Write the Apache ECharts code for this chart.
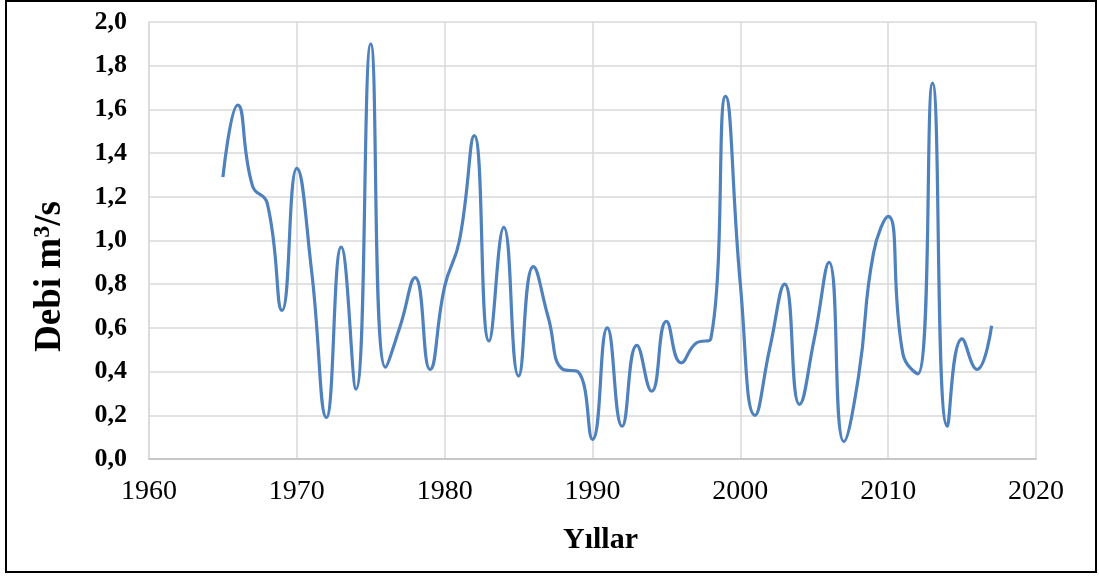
<!DOCTYPE html>
<html>
<head>
<meta charset="utf-8">
<script src="https://cdn.jsdelivr.net/npm/echarts@6/dist/echarts.min.js"></script>
<style>
html,body{margin:0;padding:0;background:#fff;}
#chart{width:1099px;height:576px;}
</style>
</head>
<body>
<div id="chart"></div>
<script>
const years = [1965,1966,1967,1968,1969,1970,1971,1972,1973,1974,1975,1976,1977,1978,1979,
  1980,1981,1982,1983,1984,1985,1986,1987,1988,1989,1990,1991,1992,1993,1994,1995,1996,1997,1998,1999,
  2000,2001,2002,2003,2004,2005,2006,2007,2008,2009,2010,2011,2012,2013,2014,2015,2016,2017];
const debi = [1.29,1.62,1.25,1.17,0.68,1.33,0.86,0.19,0.97,0.32,1.90,0.42,0.61,0.83,0.41,
  0.79,1.00,1.48,0.54,1.06,0.38,0.88,0.65,0.41,0.40,0.09,0.60,0.15,0.52,0.31,0.63,0.44,0.53,0.55,1.66,
  0.80,0.20,0.51,0.80,0.25,0.55,0.90,0.08,0.38,0.94,1.11,0.48,0.39,1.72,0.15,0.55,0.41,0.61];
const xTicks = [1960,1970,1980,1990,2000,2010,2020];
const yTicks = [0,0.2,0.4,0.6,0.8,1.0,1.2,1.4,1.6,1.8,2.0];
const xTitle = 'Yıllar';
const yTitle = 'Debi m{sup|3}/s';

const chart = echarts.init(document.getElementById('chart'), null, {renderer:'canvas'});
const font = '"Liberation Serif","Times New Roman",serif';
const grid = '#d9d9d9';
chart.setOption({
  animation:false,
  backgroundColor:'#fff',
  graphic:[{type:'rect',shape:{x:6,y:1,width:1090,height:571},style:{fill:'none',stroke:'#000',lineWidth:2},silent:true}],
  grid:{left:149,right:63,top:22,bottom:117,containLabel:false},
  xAxis:{
    type:'value',min:xTicks[0],max:xTicks[xTicks.length-1],interval:10,
    name:xTitle,nameLocation:'middle',nameGap:66,
    nameTextStyle:{fontFamily:font,fontSize:30,fontWeight:'bold',color:'#000',padding:[0,0,0,16]},
    axisLine:{show:true,lineStyle:{color:'#bfbfbf',width:1.5}},
    axisTick:{show:false},
    axisLabel:{fontFamily:font,fontSize:28,color:'#000',margin:19,formatter:v=>String(v)},
    splitLine:{show:true,lineStyle:{color:grid,width:1.5}}
  },
  yAxis:{
    type:'value',min:yTicks[0],max:yTicks[yTicks.length-1],interval:0.2,
    name:yTitle,nameLocation:'middle',nameGap:80,nameRotate:90,
    nameTextStyle:{fontFamily:font,fontSize:37,fontWeight:'bold',color:'#000',padding:[0,72,0,0],
      rich:{sup:{fontFamily:font,fontSize:24,fontWeight:'bold',color:'#000',verticalAlign:'top',padding:[0,0,14,0]}}},
    axisLine:{show:true,lineStyle:{color:grid,width:1.5}},
    axisTick:{show:false},
    axisLabel:{fontFamily:font,fontSize:26,fontWeight:'bold',color:'#000',margin:22,
      formatter:v=>v.toFixed(1).replace('.',',')},
    splitLine:{show:true,lineStyle:{color:grid,width:1.5}}
  },
  series:[{
    type:'line',smooth:0.5,showSymbol:false,symbol:'none',
    lineStyle:{color:'#4f81bd',width:3.2},
    data:years.map((y,i)=>[y,debi[i]])
  }]
});
</script>
</body>
</html>
